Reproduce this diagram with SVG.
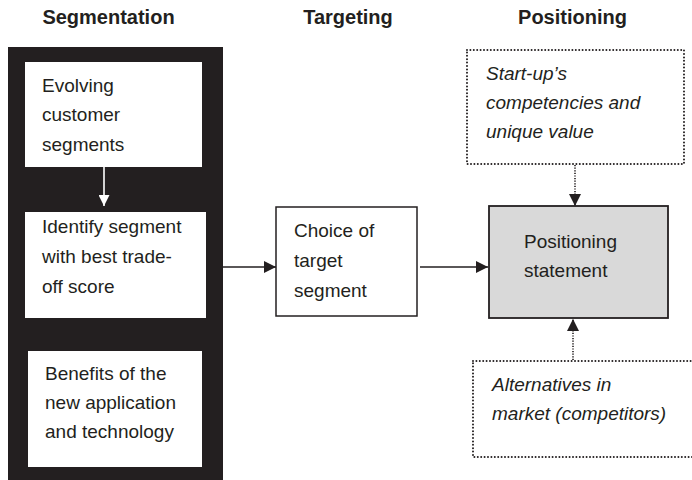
<svg xmlns="http://www.w3.org/2000/svg" width="692" height="480" viewBox="0 0 692 480">
<defs>
<style>
.hdr{font-family:"Liberation Sans",Arial,sans-serif;font-weight:bold;font-size:20px;fill:#231f20;text-anchor:middle}
.t{font-family:"Liberation Sans",Arial,sans-serif;font-size:19px;fill:#231f20}
.it{font-family:"Liberation Sans",Arial,sans-serif;font-size:19px;font-style:italic;fill:#231f20}
.box{fill:#ffffff;stroke:#231f20;stroke-width:1.5}
.wbox{fill:#ffffff;stroke:none}
.dot{fill:#ffffff;stroke:#231f20;stroke-width:2;stroke-dasharray:0 3.4;stroke-linecap:round}
.conn{stroke:#231f20;stroke-width:1.4;fill:none}
.dconn{stroke:#231f20;stroke-width:1.6;fill:none;stroke-dasharray:1.2 1.4}
</style>
<marker id="ah" markerWidth="12" markerHeight="12" viewBox="0 0 12 12" refX="12" refY="6" orient="auto" markerUnits="userSpaceOnUse">
<path d="M0,0 L12,6 L0,12 Z" fill="#231f20"/>
</marker>
<marker id="awh" markerWidth="11" markerHeight="11" viewBox="0 0 12 12" refX="12" refY="6" orient="auto" markerUnits="userSpaceOnUse">
<path d="M0,0 L12,6 L0,12 Z" fill="#ffffff"/>
</marker>
</defs>
<rect width="692" height="480" fill="#ffffff"/>
<g id="headers">
<text class="hdr" x="108.5" y="24">Segmentation</text>
<text class="hdr" x="348" y="24">Targeting</text>
<text class="hdr" x="572.5" y="24">Positioning</text>
</g>
<g id="segmentation-panel">
<rect x="8" y="47" width="215" height="440" fill="#231f20"/>
</g>
<g id="evolving">
<rect class="wbox" x="25" y="62" width="177" height="105"/>
<text class="t" x="42" y="92">Evolving</text>
<text class="t" x="42" y="121">customer</text>
<text class="t" x="42" y="151">segments</text>
</g>
<g id="identify">
<rect class="wbox" x="25" y="212" width="181" height="106"/>
<text class="t" x="42" y="233">Identify segment</text>
<text class="t" x="42" y="263">with best trade-</text>
<text class="t" x="42" y="293">off score</text>
</g>
<g id="benefits">
<rect class="wbox" x="28" y="351" width="174" height="116"/>
<text class="t" x="45" y="380">Benefits of the</text>
<text class="t" x="45" y="409">new application</text>
<text class="t" x="45" y="438">and technology</text>
</g>
<g id="choice">
<rect class="box" x="276" y="207" width="141" height="109"/>
<text class="t" x="294" y="237">Choice of</text>
<text class="t" x="294" y="267">target</text>
<text class="t" x="294" y="297">segment</text>
</g>
<g id="positioning">
<rect x="489" y="206" width="179" height="112" fill="#d9d9d9" stroke="#231f20" stroke-width="1.8"/>
<text class="t" x="524" y="248">Positioning</text>
<text class="t" x="524" y="277">statement</text>
</g>
<g id="startup">
<rect class="dot" x="467" y="50" width="217" height="114"/>
<text class="it" x="486" y="80">Start-up’s</text>
<text class="it" x="486" y="109">competencies and</text>
<text class="it" x="486" y="138">unique value</text>
</g>
<g id="alternatives">
<rect class="dot" x="473" y="361" width="240" height="96"/>
<text class="it" x="492" y="391">Alternatives in</text>
<text class="it" x="492" y="420">market (competitors)</text>
</g>
<g id="connectors">
<line x1="104" y1="167" x2="104" y2="206" stroke="#ffffff" stroke-width="1.6" marker-end="url(#awh)"/>
<line class="conn" x1="222" y1="267" x2="276" y2="267" marker-end="url(#ah)"/>
<line class="conn" x1="420" y1="267" x2="488" y2="267" marker-end="url(#ah)"/>
<line class="dconn" x1="575" y1="165" x2="575" y2="206" marker-end="url(#ah)"/>
<line class="dconn" x1="573" y1="360" x2="573" y2="319" marker-end="url(#ah)"/>
</g>
</svg>
